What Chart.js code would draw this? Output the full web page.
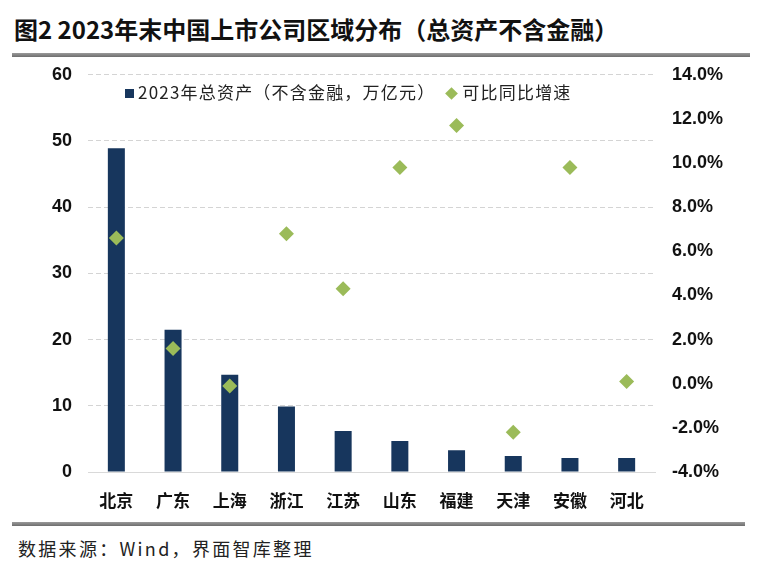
<!DOCTYPE html>
<html><head><meta charset="utf-8">
<script src="https://cdn.jsdelivr.net/npm/chart.js@4.4.1/dist/chart.umd.min.js"></script>
<style>
html,body{margin:0;padding:0;background:#fff;width:771px;height:570px;overflow:hidden;font-family:"Noto Sans CJK SC",sans-serif;}
#title{position:absolute;left:14px;top:11px;font-size:24px;font-weight:bold;color:#111;white-space:nowrap;letter-spacing:0px;}
.rule{position:absolute;height:4px;background:linear-gradient(#9a9a9a,#6e6e6e);}
#wrap{position:absolute;left:0;top:47px;width:771px;height:475px;}
#legend{position:absolute;top:79px;left:125px;font-size:17px;color:#222;white-space:nowrap;letter-spacing:1.2px;}
#legend span.sq{display:inline-block;width:9px;height:9px;background:#17365D;margin-right:4px;vertical-align:1px;}
#legend span.dm{display:inline-block;width:9px;height:9px;background:#9BBB59;transform:rotate(45deg);margin:0 6px 0 12px;vertical-align:1px;}
#source{position:absolute;left:18px;top:535px;font-size:18px;color:#222;white-space:nowrap;letter-spacing:2.3px;}
</style></head>
<body>
<div id="title">图2 2023年末中国上市公司区域分布（总资产不含金融）</div>
<div class="rule" style="left:12px;top:53px;width:738px;"></div>
<div id="wrap"><canvas id="c"></canvas></div>
<div id="legend"><span class="sq"></span>2023年总资产（不含金融，万亿元）<span class="dm"></span>可比同比增速</div>
<div class="rule" style="left:12px;top:522px;width:733px;"></div>
<div id="source">数据来源：Wind，界面智库整理</div>
<script>
const categories = ["北京","广东","上海","浙江","江苏","山东","福建","天津","安徽","河北"];
const totalAssets = [48.9, 21.5, 14.7, 9.9, 6.2, 4.7, 3.3, 2.4, 2.1, 2.1];
const growthPct = [6.6, 1.6, -0.1, 6.8, 4.3, 9.8, 11.7, -2.2, 9.8, 0.1];
const leftTicks = [0,10,20,30,40,50,60];
const rightTicks = [-4,-2,0,2,4,6,8,10,12,14];

new Chart(document.getElementById('c'), {
  data: {
    labels: categories,
    datasets: [
      {type:'line', label:'可比同比增速', data: growthPct, yAxisID:'y2', showLine:false,
       pointStyle:'rectRot', pointRadius:7.5, pointHoverRadius:7.5, backgroundColor:'#9BBB59', borderColor:'#9BBB59', borderWidth:0},
      {type:'bar', label:'2023年总资产（不含金融，万亿元）', data: totalAssets, yAxisID:'y',
       backgroundColor:'#17365D', barPercentage:0.3, categoryPercentage:1.0}
    ]
  },
  options: {
    responsive:true, maintainAspectRatio:false, animation:false,
    layout:{padding:{top:1,left:0,right:0,bottom:0}},
    plugins:{legend:{display:false}, tooltip:{enabled:false}},
    scales:{
      x:{
        grid:{display:false, drawTicks:false},
        border:{display:true, color:'#d9d9d9', width:1},
        ticks:{padding:18, color:'#111', font:{family:'"Noto Sans CJK SC"', size:17, weight:'bold'}},
        afterFit(s){ s.height = 50; }
      },
      y:{
        position:'left', min:0, max:60,
        afterBuildTicks(s){ s.ticks = leftTicks.map(v=>({value:v})); },
        grid:{color:'#d4d4d4', drawTicks:false, lineWidth:1},
        border:{display:false, dash:[5,3]},
        ticks:{padding:16, color:'#111', font:{family:'"Liberation Sans", Arial', size:18, weight:'bold'}},
        afterFit(s){ s.width = 88; }
      },
      y2:{
        position:'right', min:-4, max:14,
        afterBuildTicks(s){ s.ticks = rightTicks.map(v=>({value:v})); },
        grid:{display:false, drawTicks:false},
        border:{display:false},
        ticks:{padding:17, color:'#111', font:{family:'"Liberation Sans", Arial', size:18, weight:'bold'},
          callback:v=>v.toFixed(1)+'%'},
        afterFit(s){ s.width = 116; }
      }
    }
  }
});
</script>
</body></html>
